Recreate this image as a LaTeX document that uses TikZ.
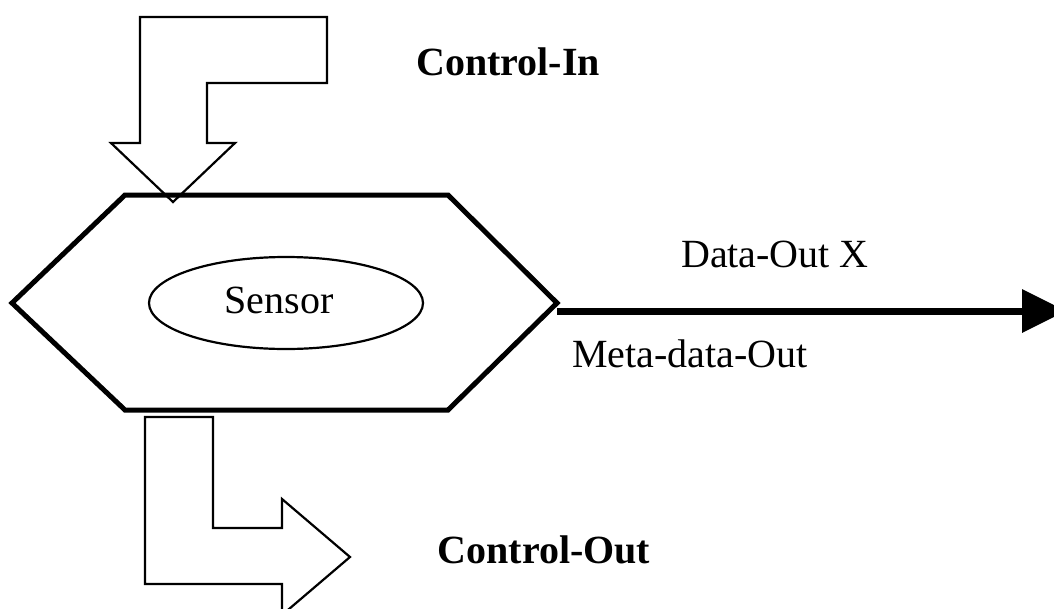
\documentclass[tikz,border=0pt]{standalone}
\usepackage{fontspec}
\setmainfont{Liberation Serif}
\usetikzlibrary{arrows.meta,shapes.geometric}
\begin{document}
\begin{tikzpicture}[x=1pt,y=-1pt,
  hexline/.style={line width=5pt, line join=miter},
  blockarrow/.style={line width=2.2pt, line join=miter},
  txt/.style={font=\fontsize{40}{40}\selectfont, inner sep=0pt, anchor=base},
  boldtxt/.style={txt, font=\fontsize{40}{40}\selectfont\bfseries},
  ]
  \useasboundingbox (0,0) rectangle (1054,608);
  \clip (0,0) rectangle (1054,608);

  % sensor hexagon
  \coordinate (hw)  at (12,303);
  \coordinate (hnw) at (125,195);
  \coordinate (hne) at (448,195);
  \coordinate (he)  at (557,303);
  \coordinate (hse) at (448,410);
  \coordinate (hsw) at (125,410);
  \draw[hexline] (hw) -- (hnw) -- (hne) -- (he) -- (hse) -- (hsw) -- cycle;

  % sensor ellipse and its label
  \node[ellipse, draw, line width=2.2pt, minimum width=274pt, minimum height=92pt, inner sep=0pt] (sensor) at (286,303) {};
  \node[txt] (sensortxt) at (279,313) {Sensor};

  % control input block arrow
  \draw[blockarrow] (140,17) -- (327,17) -- (327,83) -- (207,83) -- (207,143)
    -- (235,143) -- (173,202) -- (111,143) -- (140,143) -- cycle;
  \node[boldtxt] (ctrlin) at (508,75) {Control-In};

  % control output block arrow
  \draw[blockarrow] (145,417) -- (213,417) -- (213,528) -- (282,528) -- (282,499)
    -- (350,557) -- (282,615) -- (282,584) -- (145,584) -- cycle;
  \node[boldtxt] (ctrlout) at (544,563) {Control-Out};

  % data output connector
  \coordinate (dout) at (557,311);
  \coordinate (dend) at (1066,311);
  \draw[line width=7pt, -{Triangle[length=44pt,width=42pt]}] (dout) -- (dend);
  \node[txt] (dataout) at (775,267) {Data-Out X};
  \node[txt, anchor=base west] (metaout) at (572,367) {Meta-data-Out};
\end{tikzpicture}
\end{document}
